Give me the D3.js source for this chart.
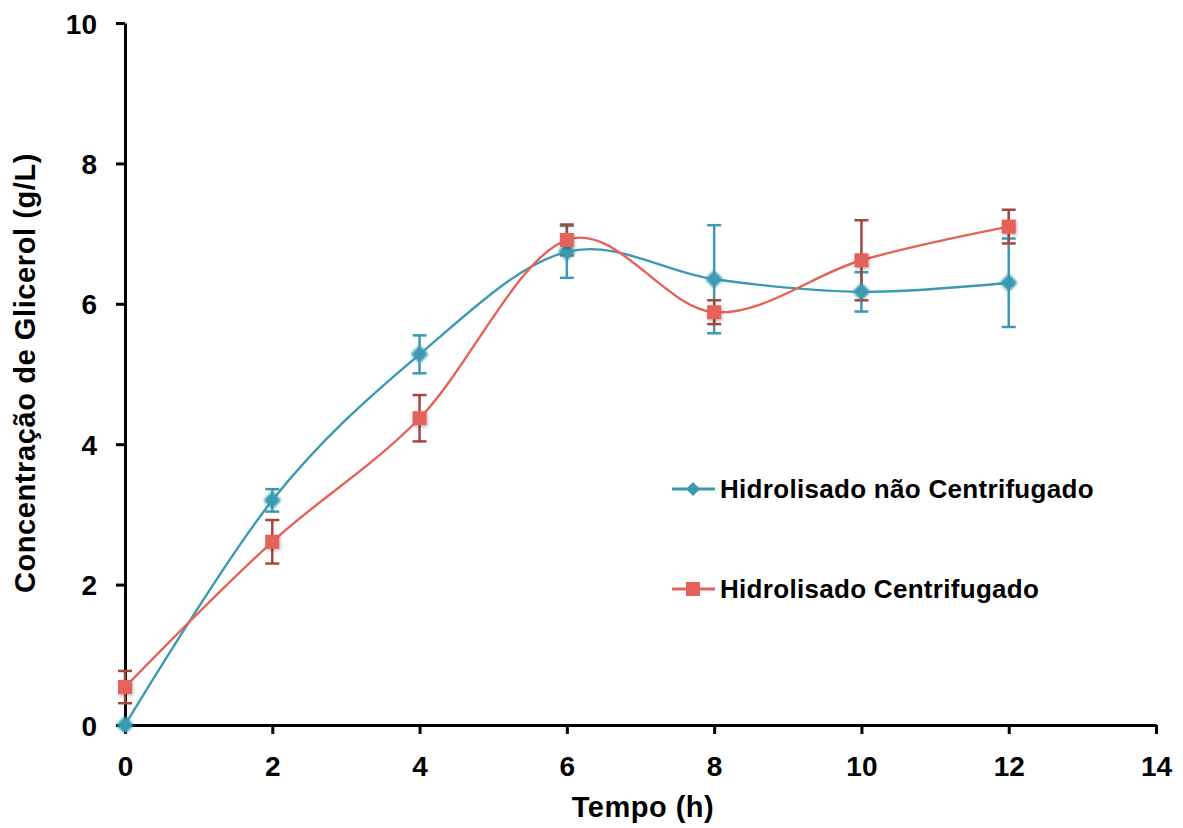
<!DOCTYPE html>
<html>
<head>
<meta charset="utf-8">
<script src="https://cdn.jsdelivr.net/npm/d3@7"></script>
<style>
  body { margin: 0; background: #fff; }
  text { font-family: "Liberation Sans", Arial, sans-serif; font-weight: bold; }
</style>
</head>
<body>
<svg id="chart" width="1183" height="828"></svg>
<script>
// tempo (h)
const hours = [0, 2, 4, 6, 8, 10, 12];
// glicerol (g/L) and error bars
const naoCentrifugado = [0.0, 3.2, 5.28, 6.74, 6.35, 6.17, 6.3];
const naoCentrifugadoErr = [0.0, 0.16, 0.27, 0.37, 0.77, 0.28, 0.63];
const centrifugado = [0.54, 2.61, 4.37, 6.91, 5.88, 6.62, 7.1];
const centrifugadoErr = [0.23, 0.31, 0.33, 0.22, 0.17, 0.57, 0.24];
const xTicks = [0, 2, 4, 6, 8, 10, 12, 14];
const yTicks = [0, 2, 4, 6, 8, 10];

const svg = d3.select("#chart");
const x = d3.scaleLinear().domain([0, 14]).range([125, 1156]);
const y = d3.scaleLinear().domain([0, 10]).range([725, 23]);

const series = [
  { name: "Hidrolisado não Centrifugado", vals: naoCentrifugado, err: naoCentrifugadoErr,
    color: "#3b9ab2", errColor: "#3b9ab2", shape: "diamond", legendY: 489 },
  { name: "Hidrolisado Centrifugado", vals: centrifugado, err: centrifugadoErr,
    color: "#e5625b", errColor: "#a8443f", shape: "square", legendY: 589 }
];

// soft shadow under the markers, plus a fuzzy glow for the diamonds
const defs = svg.append("defs");
const f = defs.append("filter").attr("id", "shadow")
  .attr("x", "-50%").attr("y", "-50%").attr("width", "200%").attr("height", "200%");
f.append("feDropShadow").attr("dx", 1).attr("dy", 1.5).attr("stdDeviation", 1.5)
  .attr("flood-color", "#000").attr("flood-opacity", 0.3);
const gl = defs.append("filter").attr("id", "glow")
  .attr("x", "-60%").attr("y", "-60%").attr("width", "220%").attr("height", "220%");
gl.append("feGaussianBlur").attr("in", "SourceGraphic").attr("stdDeviation", 1.6).attr("result", "b");
const merge = gl.append("feMerge");
merge.append("feMergeNode").attr("in", "b");
merge.append("feMergeNode").attr("in", "b");

// axes
const xAxis = svg.append("g").attr("transform", `translate(0,${y(0)})`)
  .call(d3.axisBottom(x).tickValues(xTicks).tickSize(9).tickSizeOuter(0).tickPadding(22));
const yAxis = svg.append("g").attr("transform", `translate(${x(0)},0)`)
  .call(d3.axisLeft(y).tickValues(yTicks).tickSize(9).tickSizeOuter(0).tickPadding(19));
[xAxis, yAxis].forEach(g => {
  g.select(".domain").attr("stroke", "#000").attr("stroke-width", 3);
  g.selectAll(".tick line").attr("stroke", "#000").attr("stroke-width", 3);
  g.selectAll(".tick text").attr("fill", "#000").style("font-size", "28px").style("font-weight", "bold");
});
yAxis.selectAll(".tick text").attr("dy", "0.36em");

svg.append("text").attr("x", 643).attr("y", 817).attr("text-anchor", "middle")
  .style("font-size", "29px").style("letter-spacing", "0.5px").text("Tempo (h)");
svg.append("text").attr("transform", "translate(35,373) rotate(-90)").attr("text-anchor", "middle")
  .style("font-size", "29px").style("letter-spacing", "0.6px").text("Concentração de Glicerol (g/L)");

const line = d3.line().x((d, i) => x(hours[i])).y(d => y(d)).curve(d3.curveCardinal.tension(0));

function marker(g, shape, color, size) {
  if (shape === "diamond") {
    g.append("path").attr("d", `M0,${-size}L${size},0L0,${size}L${-size},0Z`).attr("fill", color);
  } else {
    g.append("rect").attr("x", -7).attr("y", -7).attr("width", 14).attr("height", 14).attr("fill", color);
  }
}

series.forEach(s => {
  // error bars
  const eb = svg.append("g").attr("stroke", s.errColor).attr("stroke-width", 2.5);
  s.vals.forEach((v, i) => {
    if (!s.err[i]) return;
    const cx = x(hours[i]);
    eb.append("line").attr("x1", cx).attr("x2", cx).attr("y1", y(v - s.err[i])).attr("y2", y(v + s.err[i]));
    [v - s.err[i], v + s.err[i]].forEach(e => {
      eb.append("line").attr("x1", cx - 7).attr("x2", cx + 7).attr("y1", y(e)).attr("y2", y(e));
    });
  });
});

series.forEach(s => {
  svg.append("path").datum(s.vals).attr("d", line)
    .attr("fill", "none").attr("stroke", s.color).attr("stroke-width", 2.4);
});

series.forEach(s => {
  s.vals.forEach((v, i) => {
    const g = svg.append("g").attr("transform", `translate(${x(hours[i])},${y(v)})`)
      .attr("filter", s.shape === "diamond" ? "url(#glow)" : "url(#shadow)");
    marker(g, s.shape, s.color, 8);
  });
  // legend
  svg.append("line").attr("x1", 672).attr("x2", 715).attr("y1", s.legendY).attr("y2", s.legendY)
    .attr("stroke", s.color).attr("stroke-width", 3);
  const lg = svg.append("g").attr("transform", `translate(693,${s.legendY})`);
  marker(lg, s.shape, s.color, 7);
  svg.append("text").attr("x", 720).attr("y", s.legendY).attr("dy", "0.36em")
    .style("font-size", "26px").style("letter-spacing", "0.3px").attr("fill", "#000").text(s.name);
});
</script>
</body>
</html>
